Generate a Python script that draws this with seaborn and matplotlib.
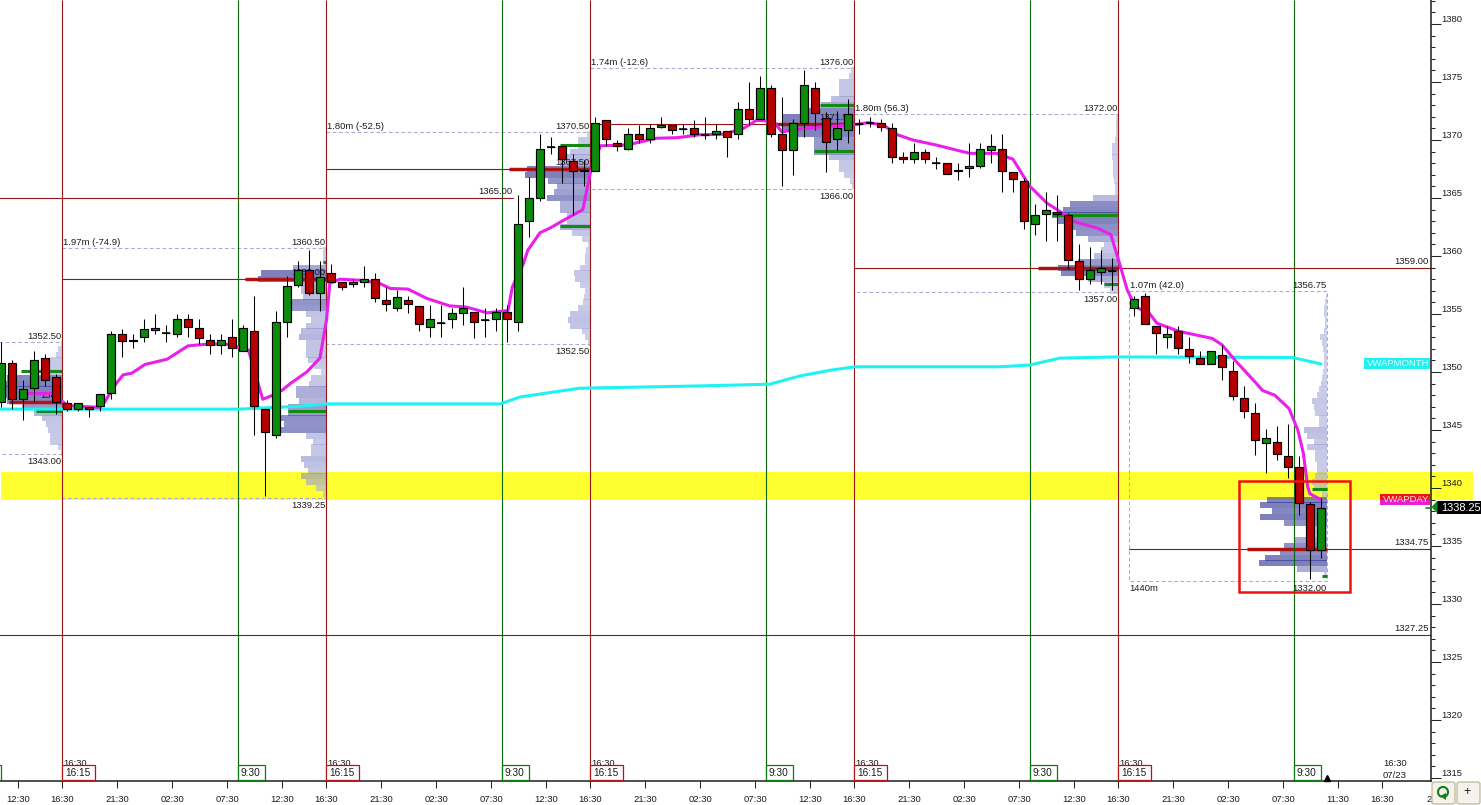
import numpy as np
import matplotlib
matplotlib.use('Agg')
import matplotlib.pyplot as plt
from matplotlib.lines import Line2D
from matplotlib.patches import Rectangle, FancyBboxPatch, Polygon
from matplotlib.transforms import blended_transform_factory
from matplotlib.ticker import MultipleLocator
import seaborn as sns

nan = float('nan')

# hourly bars, first one is k = -6
first_bar = -6
bar_open = [1347.4,1350.75,1347.65,1348.6,1351.25,1349.55,1347.3,1346.85,1347,1347.1,
    1348.15,1353.25,1352.65,1353.05,1353.6,1353.4,1353.3,1354.55,1353.75,1352.8,
    1352.35,1353,1351.85,1353.5,1346.8,1344.6,1354.35,1357.5,1358.75,1356.85,
    1358.5,1357.75,1357.55,1357.8,1358,1356.25,1355.55,1356.25,1355.7,1353.85,
    1354.2,1354.6,1355.1,1355.2,1354.5,1354.6,1355.2,1354.35,1363.05,1365,
    1369.4,1369.45,1368.2,1367.45,1367.3,1371.7,1369.7,1369.25,1370.5,1370.05,
    1371.1,1371.25,1370.95,1371,1370.45,1370.55,1370.75,1370.55,1372.7,1371.8,
    1374.45,1370.5,1369.1,1371.5,1374.45,1371.9,1370.05,1370.85,1371.4,1371.45,
    1371.45,1371,1368.5,1368.35,1369,1368,1368,1367.3,1367.55,1367.8,
    1369.1,1369.2,1367.2,1366.5,1362.8,1363.6,1363.75,1363.5,1359.55,1358.05,
    1358.6,1358.7,nan,1355.55,1356.55,1354,1353.05,1353.5,1352,1351.25,
    1350.65,1351.5,1350.05,1347.8,1346.5,1343.85,1344,1342.8,1341.8,1338.6,1334.65]
bar_close = [1350.75,1347.65,1348.5,1351,1349.3,1347.4,1346.85,1347.3,1346.8,1348.1,
    1353.25,1352.65,1352.8,1353.75,1353.75,1353.4,1354.55,1353.85,1352.9,1352.35,
    1352.8,1352.1,1353.75,1347.1,1344.85,1354.3,1357.45,1358.8,1356.85,1358.2,
    1357.8,1357.35,1357.75,1358,1356.35,1355.85,1356.5,1355.85,1354.1,1354.55,
    1354.2,1355.05,1355.5,1354.35,1354.5,1355.2,1354.6,1362.75,1365,1369.2,
    1369.4,1368.35,1367.3,1367.3,1371.45,1370.05,1369.5,1370.5,1370.05,1371,
    1371.25,1370.85,1370.95,1370.55,1370.45,1370.75,1370.3,1372.7,1371.8,1374.45,
    1370.55,1369.1,1371.45,1374.7,1372.3,1369.8,1371,1372.2,1371.4,1371.45,
    1371.1,1368.55,1368.35,1369,1368.35,1368,1367.05,1367.45,1367.75,1369.2,
    1369.45,1367.3,1366.6,1363.05,1363.5,1364,1363.6,1359.65,1358.05,1358.75,
    1359,1358.7,nan,1356.25,1354.1,1353.35,1353.25,1352.1,1351.35,1350.65,
    1351.8,1350.4,1347.9,1346.6,1344.1,1344.3,1342.9,1341.85,1338.7,1334.65,1338.25]
bar_high = [1352.6,1351,1349.3,1351.85,1351.55,1349.85,1347.6,1347.3,1347,1348.1,
    1353.55,1353.75,1353.3,1354.55,1355,1354.05,1355,1355,1354.55,1353.3,
    1353.3,1354.55,1354.05,1356.55,1346.8,1355.25,1358.25,1359.55,1360.5,1359.55,
    1359.3,1357.75,1358,1359.1,1358.5,1357.35,1357.1,1356.55,1355.7,1355.75,
    1355.75,1355.55,1357.3,1355.2,1355.5,1355.5,1355.75,1365.25,1366.8,1370.5,
    1370.25,1369.45,1368.8,1368.3,1371.95,1371.7,1370,1371,1371.3,1371.4,
    1371.95,1371.25,1371.4,1371.7,1371.95,1371.4,1370.75,1373.3,1375,1375.5,
    1374.75,1373.7,1371.85,1376,1375,1372.45,1372.5,1373.5,1371.85,1372,
    1371.85,1371.45,1369,1369.7,1369.2,1368.5,1368,1368,1369.75,1369.75,
    1370.5,1370.5,1367.2,1366.75,1364.5,1365.5,1365.25,1363.75,1361,1360.8,
    1360.5,1359.8,nan,1356.55,1356.8,1354,1354,1354,1353,1351.8,
    1351.8,1352.35,1350.95,1348.8,1347.3,1345.05,1345.35,1345.55,1342.8,1338.8,1339.1]
bar_low = [1347,1346.85,1345.85,1347.45,1348.8,1346.35,1346.6,1346.6,1346.1,1346.6,
    1347.65,1351.3,1352.1,1352.6,1353.3,1352.6,1353.05,1353.05,1352.4,1351.55,
    1351.55,1351.3,1351.85,1344.6,1339.35,1344.35,1353.05,1357.35,1356.6,1355.25,
    1357.8,1357.05,1357.35,1357.35,1356.05,1355.3,1355.3,1355.1,1353.55,1353.05,
    1353.05,1353.8,1354.05,1352.9,1353.05,1353.55,1352.6,1353.55,1361.6,1364.75,
    1368.8,1366.3,1363.5,1366.05,1367.3,1369.5,1369.05,1369.1,1369.75,1369.75,
    1371,1370.55,1370.55,1370.25,1370.05,1370.05,1368.55,1370.05,1371.3,1371.8,
    1370.3,1366.05,1367,1370.3,1370.9,1367.25,1369.1,1369.7,1370.55,1371.1,
    1370.8,1368.05,1368.05,1368.05,1368.05,1367.5,1367.05,1366.55,1366.85,1367.55,
    1368.05,1365.55,1365.55,1362.3,1361.85,1361.3,1361.3,1358.85,1357.1,1357.55,
    1357.55,1357.1,nan,1354.85,1354.1,1351.55,1352.1,1351.55,1350.8,1350.65,
    1350.65,1349.35,1347.6,1346.05,1342.85,1341.3,1342.4,1340.9,1337.65,1332.15,1333.95]

vwap_bar = [-3.5,-1.4,-0.4,0.1,3,3.45,4.4,5.1,5.9,7.1,9.1,11,12.7,14.5,16.5,17.8,18.6,19.6,20.3,21.8,23,23.6,23.9,24.8,
    26.9,28.5,29.4,31,32.7,34.8,36.3,38.2,40.1,40.5,41.5,41.9,43,43.9,45,46.9,47.6,48.5,50.5,51.5,53.6,55.5,57.5,59.7,
    61.5,62.7,64.2,65,67,68.8,71.5,72.8,74.2,75.5,76.9,79.1,81.2,82.1,84.5,86,87.5,89.1,90.5,91.8,93.7,94.9,95.6,96.4,
    97,97.4,98.4,99.1,101.1,104.1,105,106.3,108,108.7,109.8,111.1,111.9,112.4,112.8,113,114]
vwap_price = [1348.15,1348.15,1347.45,1347.1,1346.95,1347.45,1348.9,1349.75,1349.9,1350.65,1351.1,1352.25,1352.4,1352.4,1351.9,1347.65,1347.95,1348.45,1349,1350,1351.2,1354.5,1357.65,1358,
    1357.9,1357.6,1357.2,1357.15,1356.35,1355.7,1355.6,1355.1,1355.3,1357.35,1359.35,1360.5,1362,1362.4,1363,1364,1367.25,1369.5,1369.55,1369.7,1370.15,1370.2,1370.45,1370.5,
    1371,1371.7,1371.6,1370.7,1371,1371.15,1371.3,1371.5,1371.3,1370.45,1370,1369.55,1369.05,1368.85,1368.85,1368.35,1366.05,1364.55,1363.7,1362.9,1362.4,1361.85,1359.65,1357.05,
    1355.9,1355.5,1355.05,1354.2,1353.5,1352.9,1352.35,1350.9,1349.15,1348.4,1348,1346.85,1345,1343,1340.1,1339.5,1339]

month_bar = [-6.1,15.7,21.2,23.6,39.4,41.2,46.6,57.5,63.9,66.6,69.4,71.6,84.8,87.5,90.3,95.5,111.4,114]
month_price = [1346.8,1346.8,1347.05,1347.25,1347.25,1347.85,1348.6,1348.8,1348.95,1349.65,1350.15,1350.45,1350.45,1350.6,1351.2,1351.3,1351.25,1350.7]

# volume profiles, one row every half point from the top price down
profile_end = [0, 24, 48, 72, 96, 115]
profile_top = [1352.5, 1360.5, 1370.5, 1376, 1372, 1356.5]
profile_vol = [
    [1,4,6,12,14,20,55,62,62,60,55,40,28,20,16,14,12,12,4,1],
    [3,3,3,33,65,68,25,25,23,42,40,20,15,20,25,27,20,20,20,18,12,5,15,17,30,30,27,38,38,45,42,45,20,13,15,15,25,22,18,25,20,10,3],
    [3,12,12,20,25,30,63,65,42,33,36,43,30,30,23,23,30,18,8,2,4,5,5,10,16,15,10,5,6,7,12,20,22,20,8,5,2],
    [3,5,15,15,15,23,33,53,72,72,72,60,40,40,40,25,15,15,10,4,2],
    [2,2,2,2,3,6,6,6,5,5,5,4,3,3,25,48,55,66,60,45,42,30,14,17,24,40,60,57,30,14,8],
    [1,2,3,3,2,2,3,7,5,4,3,3,3,4,5,6,8,10,15,13,12,8,8,23,20,13,20,12,12,10,10,12,15,13,5,60,67,55,67,43,20,20,33,43,47,62,68,30,3],
]
poc_price = [1347.45, 1358, 1367.5, 1371.4, 1359, 1334.75]
poc_len = [53, 81, 81, 79, 80, 80]
vah_price = [1350.1, 1359.5, 1369.55, 1373, 1363.5, 1339.9]
vah_len = [41, 3, 30, 34, 66, 15]
val_price = [1346.6, 1346.65, 1362.6, 1369.05, 1357.55, 1332.4]
val_len = [26, 38, 30, 40, 14, 5]

# dashed profile range boxes
box_start = [-7, 0, 24, 48, 72, 97]
box_end = [0, 24, 48, 72, 96, 115]
box_high = [1352.6, 1360.7, 1370.7, 1376.2, 1372.25, 1356.95]
box_low = [1342.9, 1339.15, 1352.4, 1365.8, 1356.9, 1331.95]
box_note = ['', '1.97m (-74.9)', '1.80m (-52.5)', '1.74m (-12.6)', '1.80m (56.3)', '1.07m (42.0)']
high_label = ['1352.50', '1360.50', '1370.50', '1376.00', '1372.00', '1356.75']
low_label = ['1343.00', '1339.25', '1352.50', '1366.00', '1357.00', '1332.00']
ghost_label = ['1347', '1358.00', '1367.50', '1371.50']

# session lines
red_sessions = [0, 24, 48, 72, 96]
green_sessions = [16, 40, 64, 88, 112]

# naked POC lines: price, from, to
level_price = [1365, 1358, 1367.5, 1371.4, 1359, 1334.75, 1327.3]
level_from = [-7, 0, 24, 48, 72, 97, -7]
level_to = [41, 24, 48, 72, 124.4, 124.4, 124.4]
level_text = ['1365.00', '', '', '', '1359.00', '1334.75', '1327.25']

tick_hour = [-4,0,5,10,15,20,24,29,34,39,44,48,53,58,63,68,72,77,82,87,92,96,101,106,111,116,120]
tick_text = ['12:30','16:30','21:30','02:30','07:30','12:30','16:30','21:30','02:30','07:30','12:30',
             '16:30','21:30','02:30','07:30','12:30','16:30','21:30','02:30','07:30','12:30',
             '16:30','21:30','02:30','07:30','11:30','16:30']
price_ticks = [1315,1320,1325,1330,1335,1340,1345,1350,1355,1360,1365,1370,1375,1380]

band_high, band_low = 1341.38, 1339.0
alert_left, alert_right, alert_top, alert_bottom = 107, 117.09, 1340.6, 1331.03
last_price = 1338.25

W, H = 1481, 805
FS = 6.8
INK = '#1c1c1c'
LINE_RED = '#931616'
LINE_GREEN = '#0c660c'
UP = '#0b8a0b'
DOWN = '#b90000'
DASH = '#a9a9d2'
ORIGIN = 62.2  # pixel of hour zero
SHIFT = 0.43   # bars sit a little right of the full hour

sns.set_style('white')
plt.rcParams['font.family'] = ['Liberation Sans', 'DejaVu Sans']
plt.rcParams['font.size'] = FS

fig = plt.figure(figsize=(W / 100, H / 100), dpi=100, facecolor='white')
ax = fig.add_axes([0, 1 - 781 / H, 1431 / W, 781 / H])
ax.set_xlim(-ORIGIN / 11, (1431 - ORIGIN) / 11)
ax.set_ylim(1340 - 293 / 11.6, 1340 + 488 / 11.6)
trans = blended_transform_factory(ax.transAxes, ax.transData)

# yellow band runs past the price axis
ax.add_patch(Rectangle((0.0007, band_low), 1.0285, band_high - band_low, transform=trans,
                       facecolor='#ffff30', edgecolor='none', clip_on=False, zorder=0.5))

# profiles
cmap = sns.blend_palette(['#b4b8e0', '#9a9ed4', '#4a4ea4', '#2f3392'], as_cmap=True)
for end, top, vol in zip(profile_end, profile_top, profile_vol):
    vol = np.array(vol, dtype=float)
    prices = top - 0.5 * np.arange(len(vol))
    ax.barh(prices, vol / 11, left=end - vol / 11, height=0.5, linewidth=0,
            color=cmap(np.clip(vol / 65, 0, 1)), alpha=0.62, zorder=1)
for end, p, n in zip(profile_end, poc_price, poc_len):
    ax.plot([end - n / 11, end], [p, p], color='#b81414', lw=2.5, solid_capstyle='butt', zorder=2)
for end, p, n in zip(profile_end, vah_price, vah_len):
    ax.plot([end - n / 11, end], [p, p], color='#138a13', lw=2.2, solid_capstyle='butt', zorder=2)
for end, p, n in zip(profile_end, val_price, val_len):
    ax.plot([end - n / 11, end], [p, p], color='#138a13', lw=2.2, solid_capstyle='butt', zorder=2)

# range boxes and their labels
for i in range(6):
    ax.plot([box_start[i], box_end[i], box_end[i], box_start[i], box_start[i]],
            [box_high[i], box_high[i], box_low[i], box_low[i], box_high[i]],
            color=DASH, lw=0.75, dashes=(3.5, 2.5), zorder=1.5)
    ax.annotate(high_label[i], (box_end[i], box_high[i]), xytext=(-1, 1), textcoords='offset pixels',
                ha='right', va='bottom', fontsize=FS, color=INK, zorder=3)
    ax.annotate(low_label[i], (box_end[i], box_low[i]), xytext=(-1, -3), textcoords='offset pixels',
                ha='right', va='top', fontsize=FS, color=INK, zorder=3)
    if box_note[i]:
        ax.annotate(box_note[i], (box_start[i], box_high[i]), xytext=(1, 1), textcoords='offset pixels',
                    ha='left', va='bottom', fontsize=FS, color=INK, zorder=3)
ax.annotate('1440m', (97, 1331.95), xytext=(0, -3), textcoords='offset pixels',
            ha='left', va='top', fontsize=FS, color=INK, zorder=3)

# labels left half hidden behind the candles
for end, p, t in zip(profile_end, poc_price, ghost_label):
    ax.annotate(t, (end, p), xytext=(-1, 2), textcoords='offset pixels', ha='right', va='bottom',
                fontsize=FS, color=INK, zorder=2.5)

# session lines and POC levels
ax.vlines(red_sessions, *ax.get_ylim(), color=LINE_RED, lw=0.8, zorder=2.2)
ax.vlines(green_sessions, *ax.get_ylim(), color=LINE_GREEN, lw=0.8, zorder=2.2)
for p, a, b, t in zip(level_price, level_from, level_to, level_text):
    ax.plot([a, b], [p, p], color=LINE_RED, lw=0.8, zorder=2.2)
    if t:
        right = 124.3 if b > 100 else b
        ax.annotate(t, (right, p), xytext=(-1, 2), textcoords='offset pixels', ha='right', va='bottom',
                    fontsize=FS, color=INK, zorder=3)

# vwap lines through seaborn
sns.lineplot(x=np.array(month_bar) + SHIFT, y=month_price, sort=False, estimator=None, ax=ax,
             color='#1ff2f2', lw=2.2, zorder=3)
sns.lineplot(x=np.array(vwap_bar) + SHIFT, y=vwap_price, sort=False, estimator=None, ax=ax,
             color='#ea1fea', lw=2.2, zorder=3.2)

# candles
bars = np.arange(first_bar, first_bar + len(bar_open)) + SHIFT
o, h, l, c = map(np.array, (bar_open, bar_high, bar_low, bar_close))
ax.vlines(bars, l, h, color='black', lw=0.75, zorder=4)
body_low = np.minimum(o, c)
body_h = np.abs(c - o)
colors = [UP if cc > oo else DOWN for oo, cc in zip(o, c)]
ax.bar(bars, body_h, bottom=body_low, width=7.6 / 11, color=colors, edgecolor='black',
       linewidth=0.85, zorder=4.2)
flat = body_h == 0
ax.hlines(o[flat], bars[flat] - 4 / 11, bars[flat] + 4 / 11, color='black', lw=1.1, zorder=4.3)

# red alert frame
ax.add_patch(Rectangle((alert_left, alert_bottom), alert_right - alert_left, alert_top - alert_bottom,
                       fill=False, edgecolor='#ee1212', lw=1.8, zorder=5))

# axes
for side in ('top', 'left'):
    ax.spines[side].set_visible(False)
for side in ('right', 'bottom'):
    ax.spines[side].set_linewidth(1.1)
    ax.spines[side].set_color(INK)
ax.yaxis.tick_right()
ax.set_yticks(price_ticks)
ax.set_yticklabels([str(p) for p in price_ticks], va='bottom', fontsize=FS, color=INK)
ax.yaxis.set_minor_locator(MultipleLocator(1))
ax.tick_params(axis='y', which='major', length=7, width=0.75, pad=0.3, right=True)
ax.tick_params(axis='y', which='minor', length=3, width=0.75, right=True)
ax.set_xticks(tick_hour)
ax.set_xticklabels(tick_text, fontsize=FS, color=INK)
ax.tick_params(axis='x', length=5, width=0.75, pad=5, bottom=True)


def px(x, y):
    return x / W, 1 - y / H


# time tags sitting on the x axis
for s in red_sessions:
    left = ORIGIN + 11 * s
    fig.text(*px(left + 1.5, 763.5), '16:30', fontsize=FS, color=INK, va='center', zorder=6)
    fig.add_artist(Rectangle(px(left, 780), 33 / W, 15.5 / H, transform=fig.transFigure, facecolor='white',
                             edgecolor='#b01515', lw=0.9, zorder=7))
    fig.text(*px(left + 3.5, 773), '16:15', fontsize=7.3, color=INK, va='center', zorder=8)
for s in green_sessions + [-8]:
    left = ORIGIN + 11 * s
    fig.add_artist(Rectangle(px(left, 780), 27 / W, 15.5 / H, transform=fig.transFigure, facecolor='white',
                             edgecolor='#0c7a0c', lw=0.9, zorder=7))
    if s > 0:
        fig.text(*px(left + 2.5, 773), '9:30', fontsize=7.3, color=INK, va='center', zorder=8)
fig.text(*px(1395, 763), '16:30', fontsize=FS, color=INK, ha='center', va='center')
fig.text(*px(1395, 775), '07/23', fontsize=FS, color=INK, ha='center', va='center')
ax.plot([115], [1340 - 290 / 11.6], marker='^', ms=4.5, color='black', clip_on=False, zorder=8)
fig.text(*px(1438, 799), '21:30', fontsize=FS, color=INK, ha='center', va='center', zorder=3)

# right hand price flags
fig.add_artist(Rectangle(px(1364, 369), 66 / W, 11 / H, transform=fig.transFigure, facecolor='#22f0f0',
                         edgecolor='none', zorder=9))
fig.text(*px(1429, 363.5), 'VWAPMONTH', fontsize=FS, color='#d8ffff', ha='right', va='center', zorder=10)
fig.add_artist(Rectangle(px(1380, 500), 50 / W, 6 / H, transform=fig.transFigure, facecolor='#ee1515',
                         edgecolor='none', zorder=9))
fig.add_artist(Rectangle(px(1380, 505), 50 / W, 5 / H, transform=fig.transFigure, facecolor='#e81fd0',
                         edgecolor='none', zorder=9))
fig.text(*px(1429, 499.5), 'VWAPDAY', fontsize=FS, color='#ffe6e6', ha='right', va='center', zorder=10)
fig.add_artist(Polygon([px(1431.5, 507), px(1437.5, 500.5), px(1437.5, 513.5)], transform=fig.transFigure,
                       facecolor='#138a13', edgecolor='none', zorder=10))
ax.plot([123.95, 124.4], [last_price, last_price], color='#138a13', lw=1.2, clip_on=False, zorder=9)
fig.add_artist(Rectangle(px(1437, 514), 44 / W, 13 / H, transform=fig.transFigure, facecolor='black',
                         edgecolor='none', zorder=9))
fig.text(*px(1441, 507.5), f'{last_price:.2f}', fontsize=7.9, color='white', va='center', zorder=10)

# the two little buttons in the corner
for left in (1432, 1457):
    fig.add_artist(FancyBboxPatch(px(left, 804), 23 / W, 22 / H, transform=fig.transFigure,
                                  boxstyle='round,pad=0,rounding_size=0.002', facecolor='#f4f2ea',
                                  edgecolor='#b8b090', lw=0.8, zorder=9))
# refresh icon: open ring with a small arrow head
ring = np.radians(np.linspace(-60, 250, 40))
ring_x = (1443 + 5 * np.cos(ring)) / W
ring_y = 1 - (792 - 5 * np.sin(ring)) / H
fig.add_artist(Line2D(ring_x, ring_y, transform=fig.transFigure, color='#1a7a1a', lw=1.5, zorder=10))
fig.add_artist(Polygon([px(1440, 796), px(1446, 793), px(1446, 800)], transform=fig.transFigure,
                       facecolor='#1a7a1a', edgecolor='none', zorder=10))
fig.text(*px(1467, 792), '+', fontsize=9, color=INK, ha='center', va='center', zorder=10)

fig.savefig('out.png', dpi=100)
